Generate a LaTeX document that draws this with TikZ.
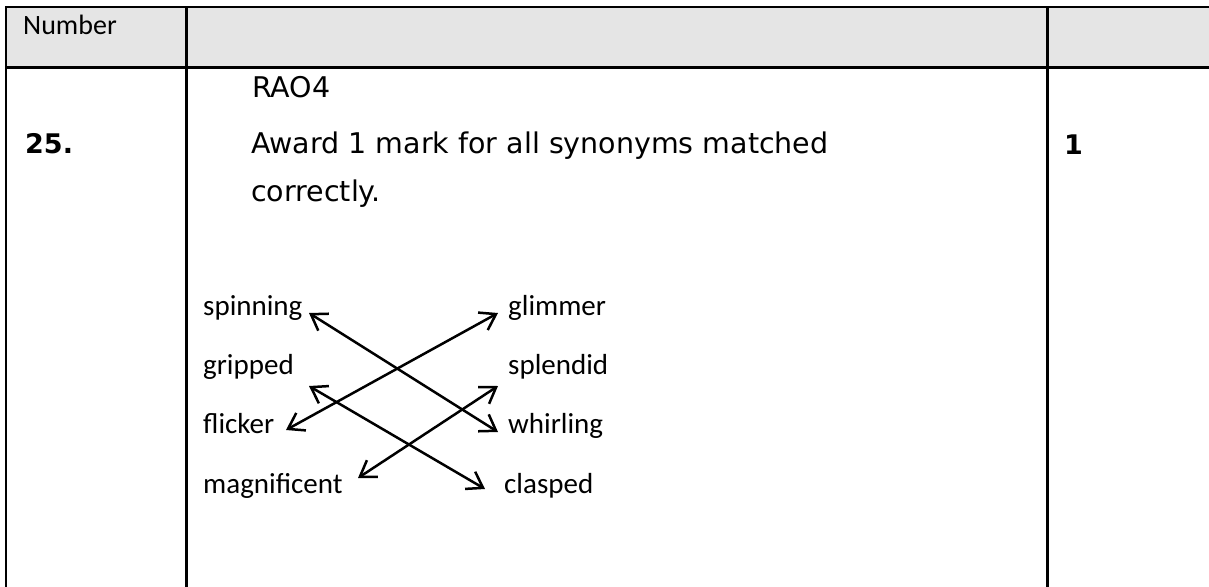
\documentclass[tikz,border=0pt]{standalone}
\usepackage{fontspec}
\setmainfont{DejaVu Sans}
\newfontfamily\labfont{Carlito}
\usetikzlibrary{arrows.meta}
\begin{document}
\begin{tikzpicture}[x=1pt,y=-1pt,
  rule/.style={line width=2.4pt, line cap=rect},
  conn/.style={line width=2.5pt,
    {Straight Barb[length=15pt,width=20pt]}-{Straight Barb[length=15pt,width=20pt]}},
  vtxt/.style={anchor=base west, inner sep=0pt, font=\fontsize{28.5}{33}\selectfont},
  vbold/.style={anchor=base west, inner sep=0pt, font=\fontsize{27}{32}\selectfont\bfseries},
  ltxt/.style={anchor=base west, inner sep=0pt, font=\labfont\fontsize{29}{34}\selectfont}]
\useasboundingbox (0,0) rectangle (1209,586);
% header fill
\fill[gray!20] (6,7) rectangle (1209,67.5);
% table rules
\draw[rule] (1209,7) -- (6,7) -- (6,586);
\draw[rule] (6,67.5) -- (1209,67.5);
\draw[rule] (186.5,7) -- (186.5,586);
\draw[rule] (1047.5,7) -- (1047.5,586);
% header
\node[ltxt, font=\labfont\fontsize{28}{33}\selectfont] (hnum) at (23,35) {Number};
% row
\node[vtxt] (rao) at (252,97) {RAO4};
\node[vbold] (qnum) at (25,153) {25.};
\node[vtxt] (award) at (251,153) {Award 1 mark for all synonyms matched};
\node[vtxt] (corr) at (251,201) {correctly.};
\node[vbold] (mark) at (1064,154) {1};
% words
\node[ltxt] (spinning) at (203,315) {spinning};
\node[ltxt] (gripped) at (203,374) {gripped};
\node[ltxt] (flicker) at (203,433) {flicker};
\node[ltxt] (magnificent) at (203,493) {magnificent};
\node[ltxt] (glimmer) at (508,315) {glimmer};
\node[ltxt] (splendid) at (508,374) {splendid};
\node[ltxt] (whirling) at (508,433) {whirling};
\node[ltxt] (clasped) at (504,493) {clasped};
% arrow ends
\coordinate (spinT) at (309,313);
\coordinate (whirT) at (498,432);
\coordinate (glimT) at (498,313);
\coordinate (flicT) at (286,430);
\coordinate (gripT) at (309,386);
\coordinate (clasT) at (485,489);
\coordinate (splT) at (498,386);
\coordinate (magT) at (358,478);
\draw[conn] (spinT) -- (whirT);
\draw[conn] (glimT) -- (flicT);
\draw[conn] (gripT) -- (clasT);
\draw[conn] (splT) -- (magT);
\end{tikzpicture}
\end{document}
